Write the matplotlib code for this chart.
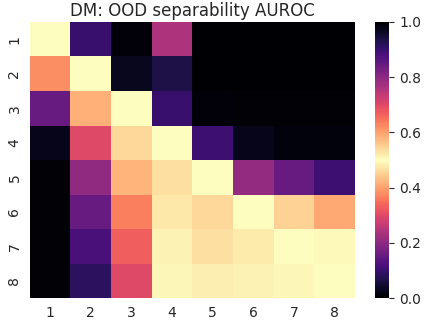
import numpy as np
import matplotlib
matplotlib.use("Agg")
import matplotlib.pyplot as plt
from matplotlib.colors import ListedColormap
import seaborn as sns

labels = ["1", "2", "3", "4", "5", "6", "7", "8"]

# AUROC per pair (row vs column)
row1 = [0.500, 0.900, 0.990, 0.760, 1.000, 1.000, 1.000, 1.000]
row2 = [0.380, 0.500, 0.970, 0.935, 1.000, 1.000, 1.000, 1.000]
row3 = [0.155, 0.415, 0.500, 0.900, 0.990, 0.995, 0.995, 0.995]
row4 = [0.025, 0.300, 0.460, 0.500, 0.895, 0.975, 0.985, 0.985]
row5 = [0.005, 0.205, 0.420, 0.465, 0.500, 0.790, 0.845, 0.895]
row6 = [0.005, 0.155, 0.365, 0.475, 0.460, 0.500, 0.550, 0.590]
row7 = [0.005, 0.120, 0.330, 0.485, 0.465, 0.480, 0.500, 0.507]
row8 = [0.005, 0.085, 0.300, 0.490, 0.483, 0.485, 0.490, 0.500]

auroc = np.array([row1, row2, row3, row4, row5, row6, row7, row8])

plt.rcParams['text.color'] = '#262626'
plt.rcParams['xtick.color'] = '#262626'
plt.rcParams['ytick.color'] = '#262626'

# symmetric magma: dark at 0 and 1, light at 0.5
half = plt.get_cmap("magma")(np.linspace(0, 1, 128))
cmap = ListedColormap(np.vstack([half, half[::-1]]))

fig = plt.figure(figsize=(4.26, 3.28), dpi=100)
ax = fig.add_axes([0.07, 0.091, 0.763, 0.842])
cax = fig.add_axes([0.881, 0.091, 0.033, 0.842])

sns.heatmap(auroc, ax=ax, cbar_ax=cax, cmap=cmap, vmin=0, vmax=1,
            xticklabels=labels, yticklabels=labels)
ax.tick_params(length=0, labelsize=10, pad=6)
cax.tick_params(labelsize=10)
cax.set_yticks([0.0, 0.2, 0.4, 0.6, 0.8, 1.0])
ax.set_title("DM: OOD separability AUROC", fontsize=12, pad=4)

fig.savefig("out.png", dpi=100)
